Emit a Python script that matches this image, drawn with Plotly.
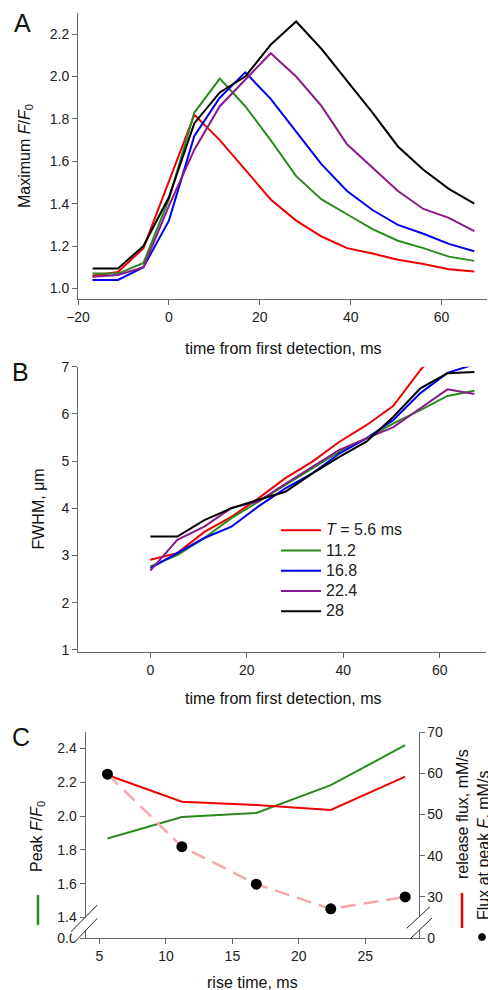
import plotly.graph_objects as go

W, H = 488, 990
FONT = "Liberation Sans, Arial, Helvetica, sans-serif"

# ---------------- data ----------------
t_a = [-16.8, -11.2, -5.6, 0, 5.6, 11.2, 16.8, 22.4, 28, 33.6, 39.2, 44.8, 50.4, 56, 61.6, 67.2]
a_red    = [1.06, 1.077, 1.19, 1.51, 1.82, 1.70, 1.56, 1.42, 1.32, 1.245, 1.19, 1.165, 1.135, 1.115, 1.09, 1.08]
a_green  = [1.07, 1.07, 1.12, 1.42, 1.83, 1.99, 1.86, 1.70, 1.53, 1.42, 1.35, 1.28, 1.225, 1.19, 1.15, 1.13]
a_blue   = [1.04, 1.04, 1.10, 1.32, 1.72, 1.90, 2.02, 1.895, 1.74, 1.585, 1.46, 1.37, 1.30, 1.258, 1.21, 1.175]
a_purple = [1.055, 1.063, 1.10, 1.39, 1.655, 1.86, 1.985, 2.11, 2.00, 1.86, 1.68, 1.57, 1.46, 1.375, 1.333, 1.27]
a_black  = [1.094, 1.094, 1.20, 1.43, 1.78, 1.925, 2.00, 2.15, 2.26, 2.13, 1.98, 1.83, 1.67, 1.56, 1.47, 1.40]

t_b = [0, 5.6, 11.2, 16.8, 22.4, 28, 33.6, 39.2, 44.8, 50.4, 56, 61.6, 67.2]
b_red    = [2.91, 3.05, 3.50, 3.82, 4.21, 4.64, 4.99, 5.41, 5.76, 6.17, 6.93, 7.58]
b_green  = [2.77, 3.01, 3.37, 3.79, 4.14, 4.49, 4.85, 5.20, 5.48, 5.80, 6.08, 6.38, 6.49]
b_blue   = [2.73, 3.05, 3.37, 3.61, 4.04, 4.42, 4.74, 5.16, 5.48, 5.87, 6.44, 6.87, 7.05]
b_purple = [2.68, 3.33, 3.61, 4.01, 4.14, 4.52, 4.88, 5.24, 5.48, 5.72, 6.12, 6.52, 6.42]
b_black  = [3.40, 3.40, 3.75, 4.00, 4.18, 4.35, 4.74, 5.09, 5.41, 5.94, 6.54, 6.86, 6.89]
legend_labels = ["<i>T</i> = 5.6 ms", "11.2", "16.8", "22.4", "28"]

rise_time = [5.6, 11.2, 16.8, 22.4, 28]
peak_ff0 = [1.867, 1.995, 2.019, 2.183, 2.42]
release_flux = [59.6, 53.1, 52.3, 51.1, 59.2]
flux_at_peak = [59.8, 42.2, 33.1, 27.1, 30.0]

a_ticks_x = [-20, 0, 20, 40, 60]
a_ticks_y = [1.0, 1.2, 1.4, 1.6, 1.8, 2.0, 2.2]
b_ticks_x = [0, 20, 40, 60]
b_ticks_y = [1, 2, 3, 4, 5, 6, 7]
c_ticks_x = [5, 10, 15, 20, 25]
c_left_vals = [1.276, 1.4, 1.6, 1.8, 2.0, 2.2, 2.4]
c_left_text = ["0.0", "1.4", "1.6", "1.8", "2.0", "2.2", "2.4"]
c_right_vals = [20, 30, 40, 50, 60, 70]
c_right_text = ["0", "30", "40", "50", "60", "70"]

colors = ["#f00000", "#2b8a1f", "#0000f0", "#8a1a8a", "#000000"]


def px(x):
    return x / W


def py(y):
    return 1 - y / H


fig = go.Figure()

for ys, c in zip([a_red, a_green, a_blue, a_purple, a_black], colors):
    fig.add_trace(go.Scatter(x=t_a, y=ys, mode="lines", line=dict(color=c, width=2),
                             xaxis="x", yaxis="y", showlegend=False, hoverinfo="skip"))

for ys, c, lab in zip([b_red, b_green, b_blue, b_purple, b_black], colors, legend_labels):
    fig.add_trace(go.Scatter(x=t_b[:len(ys)], y=ys, mode="lines", line=dict(color=c, width=2),
                             xaxis="x2", yaxis="y2",
                             name=f"<span style='font-size:16px'>{lab}</span>",
                             showlegend=True, hoverinfo="skip"))

fig.add_trace(go.Scatter(x=rise_time, y=peak_ff0, mode="lines", line=dict(color=colors[1], width=2),
                         xaxis="x3", yaxis="y3", showlegend=False))
fig.add_trace(go.Scatter(x=rise_time, y=release_flux, mode="lines", line=dict(color=colors[0], width=2),
                         xaxis="x3", yaxis="y4", showlegend=False))
fig.add_trace(go.Scatter(x=rise_time, y=flux_at_peak, mode="lines",
                         line=dict(color="#f5a8a8", width=2.5, dash="15px,8px"),
                         xaxis="x3", yaxis="y4", showlegend=False))
fig.add_trace(go.Scatter(x=rise_time, y=flux_at_peak, mode="markers",
                         marker=dict(color="black", size=11),
                         xaxis="x3", yaxis="y4", showlegend=False, cliponaxis=False))

axis_common = dict(showline=True, linecolor="#666", linewidth=1, ticks="outside", ticklen=5,
                   tickcolor="#666", tickwidth=1, showgrid=False, zeroline=False, automargin=False,
                   tickfont=dict(family=FONT, size=14, color="#222"))

fig.update_layout(
    template="none",
    width=W, height=H, margin=dict(l=0, r=0, t=0, b=0, autoexpand=False),
    paper_bgcolor="white", plot_bgcolor="white",
    font=dict(family=FONT, color="#222"),
    xaxis=dict(domain=[px(78), px(487)], range=[-20, 70], tickvals=a_ticks_x, anchor="y", **axis_common),
    yaxis=dict(domain=[py(299), py(13)], range=[0.95, 2.3], tickvals=a_ticks_y, tickformat=".1f",
               anchor="x", **axis_common),
    xaxis2=dict(domain=[px(78), px(486)], range=[-15, 69.6], tickvals=b_ticks_x, anchor="y2", **axis_common),
    yaxis2=dict(domain=[py(652), py(366.7)], range=[0.955, 7.0], tickvals=b_ticks_y, anchor="x2", **axis_common),
    xaxis3=dict(domain=[px(85.5), px(418.5)], range=[3.95, 29], tickvals=c_ticks_x, anchor="y3", **axis_common),
    yaxis3=dict(domain=[py(938.3), py(731.7)], range=[1.276, 2.5], tickvals=c_left_vals,
                ticktext=c_left_text, anchor="x3", **axis_common),
    yaxis4=dict(domain=[py(938.3), py(731.7)], range=[19.95, 70.1], tickvals=c_right_vals,
                ticktext=c_right_text, anchor="x3", overlaying="y3", side="right", **axis_common),
    legend=dict(x=px(276), y=py(515), xanchor="left", yanchor="top",
                font=dict(family=FONT, size=13.3, color="#222"), bgcolor="rgba(0,0,0,0)",
                tracegroupgap=0, itemwidth=40),
    showlegend=True,
)

ann = []


def text(x, y, s, size=16, angle=0, xanchor="center"):
    ann.append(dict(x=px(x), y=py(y), xref="paper", yref="paper", text=s, showarrow=False,
                    textangle=angle, xanchor=xanchor, yanchor="middle",
                    font=dict(family=FONT, size=size, color="#111")))


text(22, 23, "A", size=25)
text(20, 372, "B", size=25)
text(21, 737, "C", size=25)
text(283, 348, "time from first detection, ms")
text(283, 698, "time from first detection, ms")
text(252, 982, "rise time, ms")
text(25, 156, "Maximum <i>F</i>/<i>F</i><sub>0</sub>", angle=-90)
text(37.5, 509, "FWHM, μm", angle=-90)
text(37, 837, "Peak <i>F</i>/<i>F</i><sub>0</sub>", angle=-90)
text(462, 814, "release flux, mM/s", angle=-90)
text(483, 846, "Flux at peak <i>F</i>, mM/s", angle=-90)
fig.update_layout(annotations=ann)

shapes = []


def seg(x0, y0, x1, y1, color="#222", width=1):
    shapes.append(dict(type="line", xref="paper", yref="paper", x0=px(x0), y0=py(y0),
                       x1=px(x1), y1=py(y1), line=dict(color=color, width=width)))


def gap(pts):
    path = "M " + " L ".join(f"{px(a)},{py(b)}" for a, b in pts) + " Z"
    shapes.append(dict(type="path", xref="paper", yref="paper", path=path,
                       fillcolor="white", line=dict(width=0)))


# axis break marks (left and right of panel C)
gap([(71, 931.7), (97.3, 905), (97.3, 918.3), (75, 941.7)])
seg(71, 931.7, 97.3, 905)
seg(75, 941.7, 97.3, 918.3)
gap([(406.7, 928.3), (430, 906.7), (432, 918), (410, 939)])
seg(406.7, 928.3, 430, 906.7)
seg(410, 939, 432, 918)
# axis-title keys in panel C
seg(38, 895, 38, 925, color=colors[1], width=2.5)
seg(462, 893, 462, 928, color=colors[0], width=2.5)
shapes.append(dict(type="circle", xref="paper", yref="paper", x0=px(478.5), x1=px(485.5),
                   y0=py(933.5), y1=py(940.5), fillcolor="black", line=dict(color="#224", width=1)))
fig.update_layout(shapes=shapes)

fig.write_html("out.html", config={"displayModeBar": False},
               post_script="document.body.style.margin='0';document.body.style.overflow='hidden';")
